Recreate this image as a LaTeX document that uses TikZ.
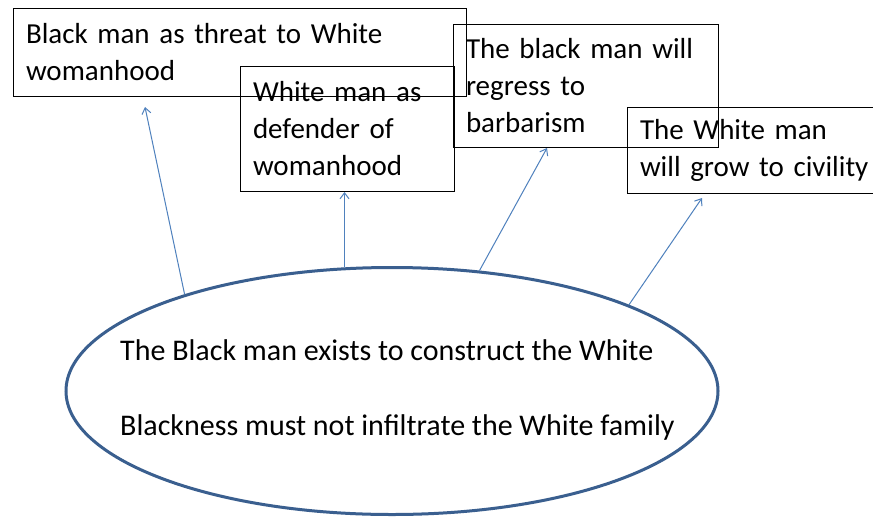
\documentclass[tikz,border=0pt]{standalone}
\usepackage{fontspec}
\setmainfont{Carlito}
\usetikzlibrary{shapes.geometric,arrows.meta}
\definecolor{ellline}{HTML}{3A5F8F}
\definecolor{arrline}{HTML}{4F81BD}
\begin{document}
\begin{tikzpicture}[x=1pt,y=-1pt,
  font=\fontsize{29}{37}\selectfont,
  box/.style={draw=black, line width=1pt, rectangle, anchor=north west,
    inner xsep=12.5pt, inner ysep=0pt, align=left},
  link/.style={draw=arrline, line width=1pt,
    -{Straight Barb[length=6pt,width=9pt]}}]
\clip (0,0) rectangle (873,520);
\fill[white] (0,0) rectangle (873,520);
\node[box, minimum width=453pt, minimum height=88pt, text width=428pt] (b1) at (13,8)
  {Black man as threat to White\\womanhood};
\node[box, minimum width=214pt, minimum height=125pt, text width=189pt] (b2) at (240,66)
  {White man as\\defender of\\womanhood};
\node[box, minimum width=265pt, minimum height=123pt, text width=240pt] (b3) at (453,24)
  {The black man will\\regress to\\barbarism};
\node[box, minimum width=266pt, minimum height=86pt, text width=241pt] (b4) at (627,107)
  {The White man\\will grow to civility};
\node[draw=ellline, line width=3pt, ellipse, minimum width=652pt,
  minimum height=247pt, inner sep=0pt] (e) at (392,391) {};
\node[align=left, inner sep=0pt, anchor=west, font=\fontsize{30}{37}\selectfont] (et) at (120,390)
  {The Black man exists to construct the White\\[38pt]Blackness must not infiltrate the White family};
\coordinate (t1) at (145,107);
\coordinate (t3) at (547,148);
\coordinate (t4) at (702,198);
\draw[link] (e.155.6) -- (t1);
\draw[link] (e.111.1) -- (e.111.1 |- b2.south);
\draw[link] (e.54.1) -- (t3);
\draw[link] (e.20.6) -- (t4);
\end{tikzpicture}
\end{document}
